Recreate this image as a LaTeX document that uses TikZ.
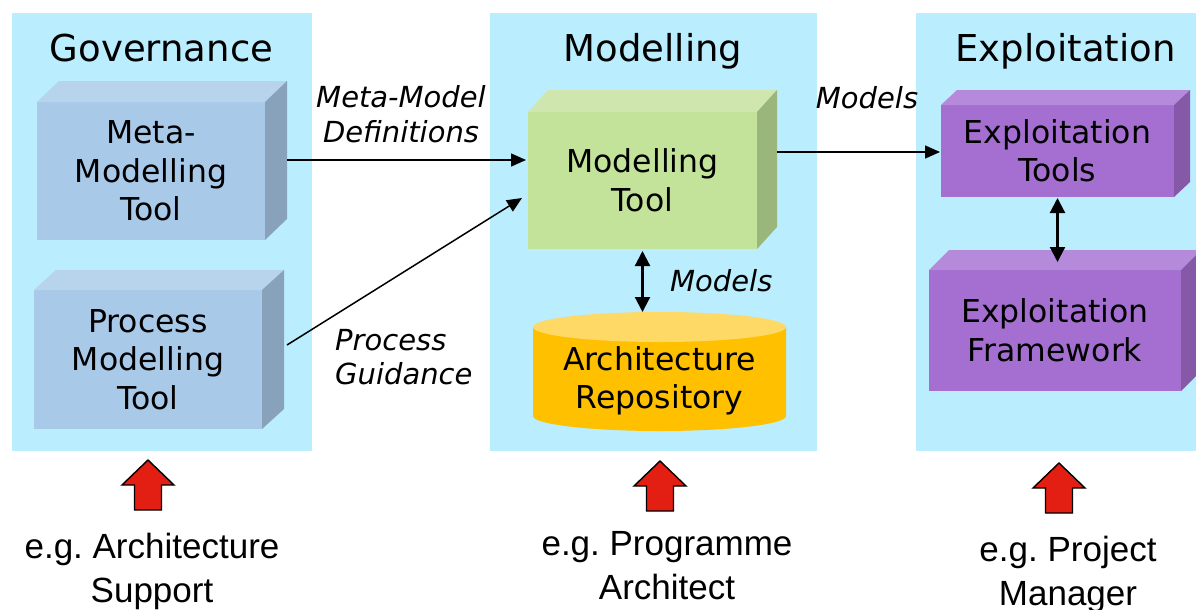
\documentclass[tikz,border=0pt]{standalone}
\usepackage{fontspec}
\setmainfont{DejaVu Sans}
\newfontfamily\arialfont{Liberation Sans}
\usetikzlibrary{arrows.meta,calc}
\frenchspacing
\definecolor{panelc}{HTML}{BAEDFD}
\definecolor{bluefront}{HTML}{A9C9E9}
\definecolor{bluetop}{HTML}{B8D3EC}
\definecolor{blueside}{HTML}{88A2BC}
\definecolor{greenfront}{HTML}{C3E29A}
\definecolor{greentop}{HTML}{CFE7AE}
\definecolor{greenside}{HTML}{9BB67B}
\definecolor{purplefront}{HTML}{A46FD0}
\definecolor{purpletop}{HTML}{B58ADA}
\definecolor{purpleside}{HTML}{8558A8}
\definecolor{cylbody}{HTML}{FFC000}
\definecolor{cyltopc}{HTML}{FFD966}
\definecolor{redarrowc}{HTML}{E31E12}
\newcommand\cubefaces[5]{%
  \fill[#4] (#1.north west) -- ++(#2,-#3) -- ($(#1.north east)+(#2,-#3)$) -- (#1.north east) -- cycle;
  \fill[#5] (#1.north east) -- ++(#2,-#3) -- ($(#1.south east)+(#2,-#3)$) -- (#1.south east) -- cycle;}
\newcommand\redup[2]{%
  \filldraw[redarrowfill] (#1,#2) -- ++(26,25) -- ++(-12.5,0) -- ++(0,25) -- ++(-27,0) -- ++(0,-25) -- ++(-12.5,0) -- cycle;}
\begin{document}
\begin{tikzpicture}[x=1pt,y=-1pt,
  panel/.style={fill=panelc, draw=none, inner sep=0pt, outer sep=0pt},
  face/.style={inner sep=0pt, outer sep=0pt, align=center,
    font=\fontsize{31.5}{38.5}\selectfont},
  titletext/.style={anchor=base, inner sep=0pt, font=\fontsize{37}{44}\selectfont},
  lab/.style={inner sep=0pt, font=\itshape\fontsize{29}{34.5}\selectfont},
  bottomlab/.style={inner sep=0pt, align=center, font=\arialfont\fontsize{35}{44}\selectfont},
  conn/.style={-{Triangle[length=15pt,width=13pt]}, line width=1.5pt},
  dbl/.style={{Triangle[length=15pt,width=15pt]}-{Triangle[length=15pt,width=15pt]}, line width=2.2pt},
  redarrowfill/.style={fill=redarrowc, draw=black, line width=1.4pt, line join=miter}]
\useasboundingbox (0,0) rectangle (1196,610);
\fill[white] (0,0) rectangle (1196,610);
% panels
\node[panel, minimum width=300, minimum height=438] (gov) at (162,232) {};
\node[panel, minimum width=327, minimum height=438] (mod) at (653.5,232) {};
\node[panel, minimum width=280, minimum height=438] (exp) at (1056,232) {};
\node[titletext] (govt) at (161.5,62) {Governance};
\node[titletext] (modt) at (653,62) {Modelling};
\node[titletext] (expt) at (1065.5,62) {Exploitation};
% boxes
\node[face, fill=bluefront, minimum width=228, minimum height=138] (mm) at (151,171) {Meta-\\Modelling\\Tool};
\cubefaces{mm}{22}{21}{bluetop}{blueside}
\node[face, fill=bluefront, minimum width=228, minimum height=139] (pm) at (148,359.5) {Process\\Modelling\\Tool};
\cubefaces{pm}{22}{20}{bluetop}{blueside}
\node[face, fill=greenfront, minimum width=229, minimum height=137] (mt) at (642.5,180.5) {Modelling\\Tool};
\cubefaces{mt}{20}{22}{greentop}{greenside}
\node[face, fill=purplefront, minimum width=233, minimum height=92] (et) at (1057.5,151) {Exploitation\\Tools};
\cubefaces{et}{16}{15}{purpletop}{purpleside}
\node[face, fill=purplefront, minimum width=252, minimum height=121] (ef) at (1055,330.5) {Exploitation\\Framework};
\cubefaces{ef}{20}{20}{purpletop}{purpleside}
% repository cylinder
\coordinate (repoc) at (659.5,380.7);
\fill[cylbody] ($(repoc)+(-126.5,-53.7)$) -- ($(repoc)+(-126.5,35.3)$)
  arc[start angle=180, end angle=0, x radius=126.5, y radius=15]
  -- ($(repoc)+(126.5,-53.7)$) -- cycle;
\fill[cyltopc] ($(repoc)+(0,-53.7)$) ellipse[x radius=126.5, y radius=15];
\node[face, minimum width=253] (repo) at (repoc) {Architecture\\Repository};
\coordinate (cyltop) at ($(repoc)+(0,-68.7)$);
% connectors
\draw[conn] ($(mm.east)+(22,-11)$) -- ($(mt.west)+(-2,-20.5)$);
\draw[conn] ($(pm.east)+(25,-14.5)$) -- ($(mt.west)+(-6,17.5)$);
\draw[conn] ($(mt.east)+(20,-28.5)$) -- ($(et.west)+(-1,1)$);
\draw[dbl, shorten <=2pt] (mt.south) -- (mt.south |- cyltop);
\draw[dbl, shorten <=1pt, shorten >=8pt] (et.south) -- (et.south |- ef.north);
% labels
\node[lab, align=center] (l1) at (401,114) {Meta-Model\\Definitions};
\node[lab, align=left, anchor=west] (l2) at (335,357) {Process\\Guidance};
\node[lab, anchor=base] (l3) at (867,108) {Models};
\node[lab, anchor=base west] (l4) at (670,291) {Models};
% red arrows
\redup{148}{460}
\redup{660}{461}
\redup{1059}{463}
% bottom labels
\node[bottomlab] (b1) at (152,571) {e.g. Architecture\\Support};
\node[bottomlab] (b2) at (667,565.5) {e.g. Programme\\Architect};
\node[bottomlab] (b3) at (1068,574) {e.g. Project\\Manager};
\end{tikzpicture}
\end{document}
